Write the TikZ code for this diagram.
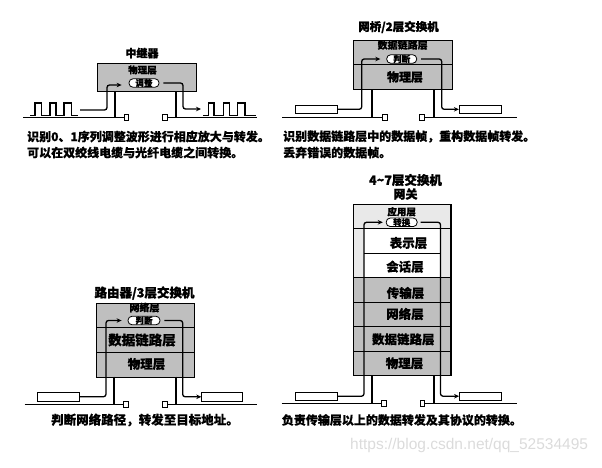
\documentclass[tikz,border=0pt]{standalone}
\usepackage{fontspec}
\newfontfamily\cjk{Noto Sans CJK SC}[FakeBold=0.4]
\newfontfamily\cjkb{Noto Sans CJK SC}[FakeBold=1.4]
\newfontfamily\wm{Liberation Sans}
\usetikzlibrary{arrows.meta}
\begin{document}
\begin{tikzpicture}[x=1pt,y=-1pt,
  dev/.style={draw=black,line width=0.8pt,fill=gray!50,anchor=north west,inner sep=0pt},
  litebox/.style={draw=black,line width=0.8pt,fill=gray!17,anchor=north west,inner sep=0pt},
  whitebox/.style={draw=black,line width=0.8pt,fill=white,anchor=north west,inner sep=0pt},
  lbl/.style={font=\cjk\bfseries\fontsize{12.5}{14}\selectfont,inner sep=0pt},
  slbl/.style={font=\cjk\bfseries\fontsize{9.5}{11}\selectfont,inner sep=0pt},
  ttl/.style={font=\cjkb\bfseries\fontsize{11.5}{13}\selectfont,inner sep=0pt},
  txt/.style={font=\cjk\bfseries\fontsize{12}{14}\selectfont,inner sep=0pt,anchor=west},
  oval/.style={draw=black,fill=white,line width=0.8pt,rounded corners=4pt,minimum width=30pt,minimum height=8.5pt,inner sep=0pt,font=\cjk\bfseries\fontsize{8.5}{9}\selectfont},
  host/.style={draw=black,fill=white,line width=0.8pt,minimum width=42pt,minimum height=8.5pt,inner sep=0pt},
  port/.style={draw=black,fill=white,line width=0.8pt,minimum width=4.5pt,minimum height=6pt,inner sep=0pt},
  sig/.style={line width=1.3pt,rounded corners=2.5pt},
  sigarr/.style={sig,-{Stealth[length=5pt,width=4.5pt]}},
  post/.style={line width=2pt},
  wire/.style={line width=1.4pt},
  wave/.style={line width=1.1pt},
]
\useasboundingbox (0,0) rectangle (602,467);

% ===== Repeater =====
\node[ttl,font=\cjkb\bfseries\fontsize{11}{13}\selectfont] (repT) at (142,53) {中继器};
\node[dev,minimum width=99pt,minimum height=28pt] (rep) at (97,63) {};
\node[slbl] (repL1) at (142.5,70) {物理层};
\node[oval] (repO) at (144,83) {调整};
\node[port] (repPL) at (126.3,117.5) {};
\node[port] (repPR) at (164.8,117.5) {};
\coordinate (repIn) at (80,110);
\coordinate (repOut) at (201,109);
\draw[wave] (30,115.8) -- (35,115.8) -- (35,103) -- (41.7,103) -- (41.7,115.8) -- (50,115.8) -- (50,103) -- (56,103) -- (56,115.8) -- (64,115.8) -- (64,103) -- (71.7,103) -- (71.7,115.8) -- (78,115.8);
\draw[wave] (203,115.8) -- (208.3,115.8) -- (208.3,103) -- (214,103) -- (214,115.8) -- (223.3,115.8) -- (223.3,103) -- (229.3,103) -- (229.3,115.8) -- (237.3,115.8) -- (237.3,103) -- (245,103) -- (245,115.8) -- (256,115.8);
\draw[wire] (23,117.5) -- (repPL.west);
\draw[wire] (repPR.east) -- (257,117.5);
\draw[post] (115,91) -- (115,117.5);
\draw[post] (176,91) -- (176,117.5);
\draw[sigarr] (repIn) -| (107,85) -- ([xshift=-7pt]repO.west |- 0,85);
\draw[sigarr] ([xshift=4pt]repO.east) -| (183,109) -- (repOut);
\node[txt] (repX1) at (27,136.5) {识别0、1序列调整波形进行相应放大与转发。};
\node[txt] (repX2) at (27,152.5) {可以在双绞线电缆与光纤电缆之间转换。};

% ===== Bridge =====
\node[ttl] (brT) at (398.5,27) {网桥/2层交换机};
\node[dev,minimum width=99pt,minimum height=24pt] (br2) at (353,40) {};
\node[dev,minimum width=99pt,minimum height=25pt] (br1) at (353,64) {};
\node[slbl,font=\cjk\bfseries\fontsize{10}{11}\selectfont] (brL2) at (402.7,45) {数据链路层};
\node[lbl,font=\cjk\bfseries\fontsize{12}{14}\selectfont] (brL1) at (405,77) {物理层};
\node[oval] (brO) at (401.7,59) {判断};
\node[host] (brHL) at (316,109.3) {};
\node[host] (brHR) at (480.3,109.3) {};
\node[port] (brPL) at (385,117.5) {};
\node[port] (brPR) at (421.7,117.5) {};
\draw[wire] (282,117.5) -- (brPL.west);
\draw[wire] (brPR.east) -- (516.7,117.5);
\draw[post] (371.7,89) -- (371.7,117.5);
\draw[post] (434,89) -- (434,117.5);
\draw[sigarr] (brHL.east) -| (361.7,59) -- ([xshift=-6pt]brO.west);
\draw[sigarr] ([xshift=4pt]brO.east) -| (441.7,109.3) -- (brHR.west);
\node[txt] (brX1) at (283,136.5) {识别数据链路层中的数据帧，重构数据帧转发。};
\node[txt] (brX2) at (283,152.5) {丢弃错误的数据帧。};

% ===== Router =====
\node[ttl,font=\cjkb\bfseries\fontsize{12.5}{14}\selectfont] (rtT) at (144.5,293) {路由器/3层交换机};
\node[dev,minimum width=98pt,minimum height=24.6pt] (rt3) at (96,302.7) {};
\node[dev,minimum width=98pt,minimum height=24.4pt] (rt2) at (96,327.3) {};
\node[dev,minimum width=98pt,minimum height=25pt] (rt1) at (96,351.7) {};
\node[slbl,font=\cjk\bfseries\fontsize{10}{11}\selectfont] (rtL3) at (144.5,307.5) {网络层};
\node[lbl,font=\cjk\bfseries\fontsize{13.5}{15}\selectfont] (rtL2) at (142,340) {数据链路层};
\node[lbl] (rtL1) at (146.5,364) {物理层};
\node[oval,minimum width=32pt] (rtO) at (144,320.5) {判断};
\node[host] (rtHL) at (58.2,396.7) {};
\node[host,minimum width=41pt] (rtHR) at (222.2,396.8) {};
\node[port] (rtPL) at (125.8,404.3) {};
\node[port] (rtPR) at (164.8,404.3) {};
\draw[wire] (24.7,404.3) -- (rtPL.west);
\draw[wire] (rtPR.east) -- (257.3,404.3);
\draw[post] (114.3,376.7) -- (114.3,404.3);
\draw[post] (176,376.7) -- (176,404.3);
\draw[sigarr] (rtHL.east) -| (106,320.5) -- ([xshift=-6pt]rtO.west);
\draw[sigarr] ([xshift=4pt]rtO.east) -| (182.7,396.8) -- (rtHR.west);
\node[txt,anchor=center,font=\cjk\bfseries\fontsize{12.5}{14}\selectfont] (rtX) at (145,420) {判断网络路径，转发至目标地址。};

% ===== Gateway =====
\node[ttl,font=\cjkb\bfseries\fontsize{12.5}{14}\selectfont] (gwT1) at (405.5,180) {4\textasciitilde7层交换机};
\node[ttl,font=\cjkb\bfseries\fontsize{12}{14}\selectfont] (gwT2) at (405.5,194) {网关};
\node[litebox,minimum width=97.4pt,minimum height=24.43pt] (gw7) at (353.3,204) {};
\node[whitebox,minimum width=97.4pt,minimum height=24.43pt] (gw6) at (353.3,228.43) {};
\node[whitebox,minimum width=97.4pt,minimum height=24.43pt] (gw5) at (353.3,252.86) {};
\fill[gray!17] (353.7,228.8) rectangle (364,276.9);
\fill[gray!17] (440.5,228.8) rectangle (450.3,276.9);
\node[dev,minimum width=97.4pt,minimum height=24.43pt] (gw4) at (353.3,277.29) {};
\node[dev,minimum width=97.4pt,minimum height=24.43pt] (gw3) at (353.3,301.71) {};
\node[dev,minimum width=97.4pt,minimum height=24.43pt] (gw2) at (353.3,326.14) {};
\node[dev,minimum width=97.4pt,minimum height=24.43pt] (gw1) at (353.3,350.57) {};
\draw[line width=0.8pt] (353.3,204) rectangle (450.7,375);
\node[slbl] (gwL7) at (401.7,211.7) {应用层};
\node[lbl] (gwL6) at (408.5,243) {表示层};
\node[lbl] (gwL5) at (405,266.7) {会话层};
\node[lbl] (gwL4) at (405.5,293) {传输层};
\node[lbl] (gwL3) at (405,314) {网络层};
\node[lbl] (gwL2) at (403.3,339.3) {数据链路层};
\node[lbl] (gwL1) at (404.5,363.3) {物理层};
\node[oval,minimum width=31pt] (gwO) at (401.7,222.3) {转换};
\node[host] (gwHL) at (316.2,396.2) {};
\node[host] (gwHR) at (480.5,396.2) {};
\node[port] (gwPL) at (383.9,403.5) {};
\node[port] (gwPR) at (422.2,403.5) {};
\draw[wire] (281.7,403.5) -- (gwPL.west);
\draw[wire] (gwPR.east) -- (516.7,403.5);
\draw[post] (371.7,375) -- (371.7,403.5);
\draw[post] (434,375) -- (434,403.5);
\draw[sigarr] (gwHL.east) -| (364,222.3) -- ([xshift=-3pt]gwO.west);
\draw[sigarr] ([xshift=3pt]gwO.east) -| (440.5,396.2) -- (gwHR.west);
\node[txt] (gwX) at (281.7,420) {负责传输层以上的数据转发及其协议的转换。};

% watermark
\node[font=\wm\fontsize{15.5}{17}\selectfont,text=gray!28,anchor=west,inner sep=0pt] (wmk) at (350,445) {https://blog.csdn.net/qq\_52534495};
\end{tikzpicture}
\end{document}
